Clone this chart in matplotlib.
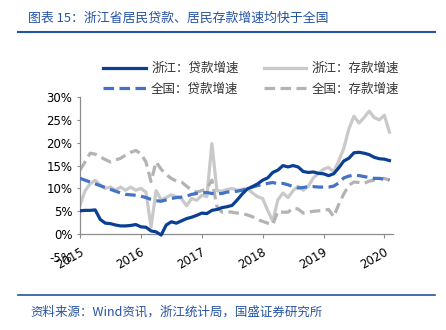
import numpy as np
import matplotlib
matplotlib.use("Agg")
import matplotlib.pyplot as plt
import matplotlib.transforms as mtransforms

plt.rcParams['font.family'] = ['Noto Sans CJK SC', 'DejaVu Sans']

# monthly series, Jan 2015 .. Feb 2020 (%, y/y)
zj_loan = [5.1, 5.2, 5.2, 5.3, 3.2, 2.4, 2.3, 2.0, 1.8, 1.8, 1.9, 2.1,
           1.6, 1.5, 0.7, 0.5, -0.2, 2.0, 2.7, 2.4, 2.9, 3.4, 3.7, 4.1,
           4.6, 4.5, 5.2, 5.4, 5.8, 6.0, 6.3, 7.5, 8.8, 9.9, 10.4, 11.0,
           11.8, 12.3, 13.5, 14.0, 15.0, 14.7, 15.0, 14.7, 13.7, 13.5, 13.6, 13.3,
           13.2, 12.8, 13.2, 14.5, 16.0, 16.6, 17.8, 17.9, 17.7, 17.4, 16.8, 16.5,
           16.4, 16.1]
zj_dep = [6.3, 9.5, 11.0, 11.8, 10.7, 10.0, 10.3, 9.6, 10.3, 9.6, 10.3, 9.6,
          10.0, 9.2, 1.5, 9.5, 7.5, 8.0, 8.6, 8.2, 7.8, 6.2, 7.8, 7.4,
          8.5, 8.2, 19.8, 9.5, 9.4, 9.8, 10.0, 9.6, 9.8, 10.0, 9.0, 8.2,
          7.8, 5.2, 2.8, 7.5, 9.0, 8.0, 9.5, 10.5, 9.6, 10.5, 12.3, 13.3,
          14.2, 14.6, 13.6, 16.0, 18.8, 23.0, 25.8, 24.3, 25.5, 26.9, 25.5, 25.0,
          26.0, 22.3]
cn_loan = [12.2, 11.8, 11.4, 11.0, 10.6, 10.2, 9.8, 9.4, 9.0, 8.7, 8.6, 8.5,
           8.3, 8.0, 7.6, 7.3, 7.2, 7.5, 7.8, 8.0, 8.1, 8.3, 8.7, 8.9,
           9.0, 9.1, 8.9, 8.8, 8.9, 9.2, 9.3, 9.4, 9.6, 10.0, 10.3, 10.6,
           10.9, 11.1, 11.3, 11.0, 11.1, 10.8, 10.4, 10.1, 10.2, 10.4, 10.4, 10.3,
           10.3, 10.3, 10.5, 11.2, 12.3, 12.7, 12.9, 12.8, 12.6, 12.4, 12.2, 12.2,
           12.0, 11.9]
cn_dep = [14.0, 15.8, 17.7, 17.5, 16.9, 16.3, 15.8, 16.2, 16.6, 17.3, 17.9, 18.3,
          17.6, 15.8, 11.5, 15.8, 14.2, 13.0, 12.2, 11.6, 11.4, 10.5, 9.6, 9.2,
          9.5, 10.0, 11.8, 6.0, 4.8, 4.9, 4.8, 4.6, 4.5, 4.2, 3.8, 3.2,
          2.8, 2.4, 2.1, 5.0, 4.8, 4.8, 5.7, 5.5, 4.6, 4.8, 5.0, 5.1,
          5.2, 5.4, 3.8, 6.5, 8.8, 10.7, 11.4, 11.3, 11.1, 11.6, 11.8, 12.1,
          12.2, 11.8]
years = ['2015', '2016', '2017', '2018', '2019', '2020']
y_ticks = [-5, 0, 5, 10, 15, 20, 25, 30]

months = np.arange(len(zj_loan))

dark_blue = '#0b3f94'
mid_blue = '#4472c4'
light_grey = '#c9c9c9'
grey = '#b3b3b3'
title_blue = '#2553a3'

fig = plt.figure(figsize=(4.46, 3.30), dpi=100)
ax = fig.add_axes([80 / 446, 73 / 330, 313 / 446, 160 / 330])

dash = (0, (3.3, 1.7))
l1, = ax.plot(months, zj_loan, color=dark_blue, lw=2.3, label='浙江：贷款增速', zorder=4)
l2, = ax.plot(months, cn_loan, color=mid_blue, lw=2.3, ls=dash, label='全国：贷款增速', zorder=3)
l3, = ax.plot(months, zj_dep, color=light_grey, lw=2.3, label='浙江：存款增速', zorder=2)
l4, = ax.plot(months, cn_dep, color=grey, lw=2.3, ls=dash, label='全国：存款增速', zorder=2)

ax.set_xlim(0, 61.7)
ax.set_ylim(-5, 30)

for s in ['top', 'right']:
    ax.spines[s].set_visible(False)
ax.spines['left'].set_bounds(0, 30)
ax.spines['bottom'].set_position(('data', 0))
for s in ['left', 'bottom']:
    ax.spines[s].set_color('#8c8c8c')
    ax.spines[s].set_linewidth(0.9)

ax.set_yticks(y_ticks)
ax.set_yticklabels([f'{v}%' for v in y_ticks], family='DejaVu Sans', fontsize=8.5)
ax.tick_params(axis='y', length=2.5, color='#8c8c8c', pad=3)
ax.yaxis.get_major_ticks()[0].tick1line.set_visible(False)

ax.set_xticks(np.arange(len(years)) * 12)
ax.set_xticklabels(years, family='DejaVu Sans', fontsize=8.5, rotation=30, ha='right')
ax.tick_params(axis='x', length=3, color='#8c8c8c', pad=5)
# nudge the year labels a little to the right, like the original
shift = mtransforms.ScaledTranslation(6 / 100, 0, fig.dpi_scale_trans)
for lab in ax.get_xticklabels():
    lab.set_transform(lab.get_transform() + shift)

fig.legend(handles=[l1, l2, l3, l4], loc='upper left',
           bbox_to_anchor=(103 / 446, 1 - 62 / 330), ncol=2, frameon=False,
           fontsize=9, handlelength=3.4, handletextpad=0.45, columnspacing=2.0,
           labelspacing=0.6, borderpad=0, borderaxespad=0, labelcolor='#333333')

fig.text(28 / 446, 1 - 18 / 330, '图表 15：浙江省居民贷款、居民存款增速均快于全国',
         color=title_blue, fontsize=9.3, va='center', ha='left')
fig.add_artist(plt.Line2D([18 / 446, 435 / 446], [1 - 32 / 330] * 2,
                          color=title_blue, lw=1.5))
fig.add_artist(plt.Line2D([18 / 446, 435 / 446], [1 - 295 / 330] * 2,
                          color=title_blue, lw=1.2))
fig.text(30 / 446, 1 - 312 / 330, '资料来源：Wind资讯，浙江统计局，国盛证券研究所',
         color=title_blue, fontsize=9, va='center', ha='left')

fig.savefig('out.png', dpi=100)
